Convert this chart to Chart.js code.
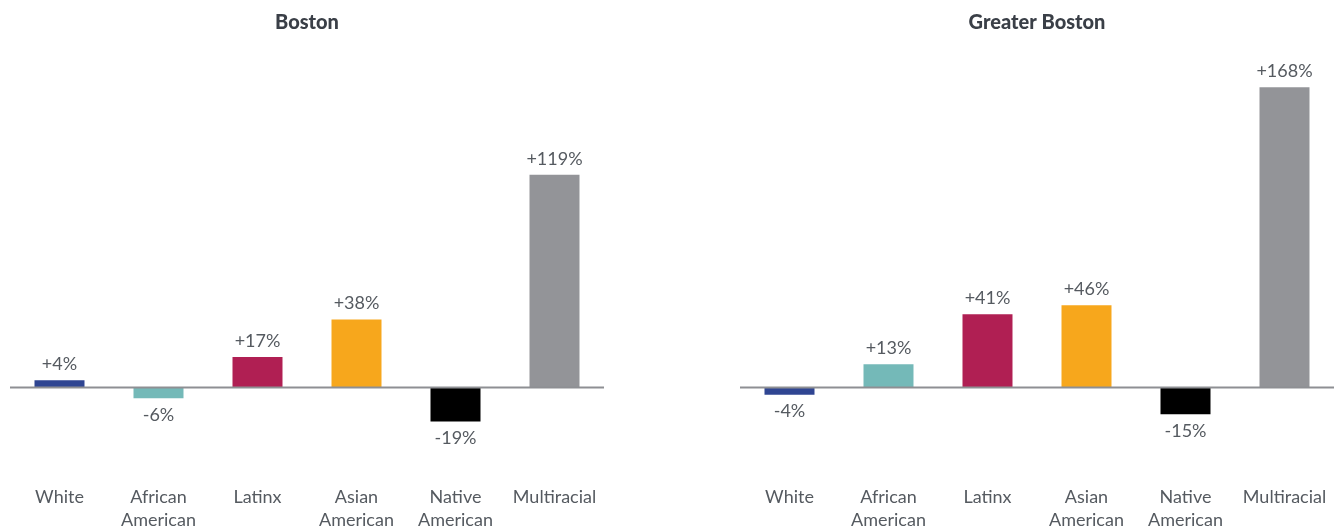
<!DOCTYPE html>
<html>
<head>
<meta charset="utf-8">
<script src="https://cdn.jsdelivr.net/npm/chart.js@4.4.1/dist/chart.umd.min.js"></script>
<style>
    html, body { margin: 0; padding: 0; background: #fff; overflow: hidden; }
    .panel { position: absolute; top: 0; width: 594px; height: 533px; }
    #left { left: 10px; }
    #right { left: 740px; }
</style>
</head>
<body>
<div class="panel" id="left"><canvas id="boston"></canvas></div>
<div class="panel" id="right"><canvas id="greater"></canvas></div>
<script>
const categories = ['White', ['African', 'American'], 'Latinx', ['Asian', 'American'], ['Native', 'American'], 'Multiracial'];
const bostonValues = [4, -6, 17, 38, -19, 119];
const greaterBostonValues = [-4, 13, 41, 46, -15, 168];
const barColors = ['#2f4592', '#74b9b8', '#b01f53', '#f7a71c', '#000000', '#939498'];
const yMin = -54;
const yMax = 181;

const textColor = '#555a60';
const fontFamily = 'Lato, "Open Sans", sans-serif';

// value labels on each bar + the zero line
const barLabels = {
    id: 'barLabels',
    afterDatasetsDraw(chart) {
        const ctx = chart.ctx;
        const y0 = chart.scales.y.getPixelForValue(0);
        ctx.save();
        ctx.strokeStyle = '#8e8f93';
        ctx.lineWidth = 2;
        ctx.beginPath();
        ctx.moveTo(chart.chartArea.left - 3, y0);
        ctx.lineTo(chart.chartArea.right + 1, y0);
        ctx.stroke();

        ctx.fillStyle = textColor;
        ctx.font = '18px ' + fontFamily;
        ctx.textAlign = 'center';
        const meta = chart.getDatasetMeta(0);
        const values = chart.data.datasets[0].data;
        meta.data.forEach((bar, i) => {
            const v = values[i];
            if (v >= 0) {
                ctx.textBaseline = 'bottom';
                ctx.fillText('+' + v + '%', bar.x, bar.y - 7);
            } else {
                ctx.textBaseline = 'top';
                ctx.fillText(v + '%', bar.x, bar.y + 8);
            }
        });
        ctx.restore();
    }
};

function makeChart(id, title, values) {
    return new Chart(document.getElementById(id), {
        type: 'bar',
        data: {
            labels: categories,
            datasets: [{
                data: values,
                backgroundColor: barColors,
                borderWidth: 0,
                barPercentage: 0.505,
                categoryPercentage: 1
            }]
        },
        options: {
            responsive: true,
            maintainAspectRatio: false,
            animation: false,
            layout: { padding: 0 },
            plugins: {
                legend: { display: false },
                tooltip: { enabled: false },
                title: {
                    display: true,
                    text: title,
                    color: '#3a3f47',
                    font: { family: fontFamily, size: 20, weight: 900 },
                    padding: { top: 11, bottom: 29 }
                }
            },
            scales: {
                x: {
                    grid: { display: false, drawTicks: false },
                    border: { display: false },
                    ticks: {
                        color: textColor,
                        font: { family: fontFamily, size: 18, lineHeight: 1.25 },
                        padding: 2,
                        maxRotation: 0,
                        autoSkip: false
                    }
                },
                y: {
                    display: false,
                    min: yMin,
                    max: yMax
                }
            }
        },
        plugins: [barLabels]
    });
}

makeChart('boston', 'Boston', bostonValues);
makeChart('greater', 'Greater Boston', greaterBostonValues);
</script>
</body>
</html>
